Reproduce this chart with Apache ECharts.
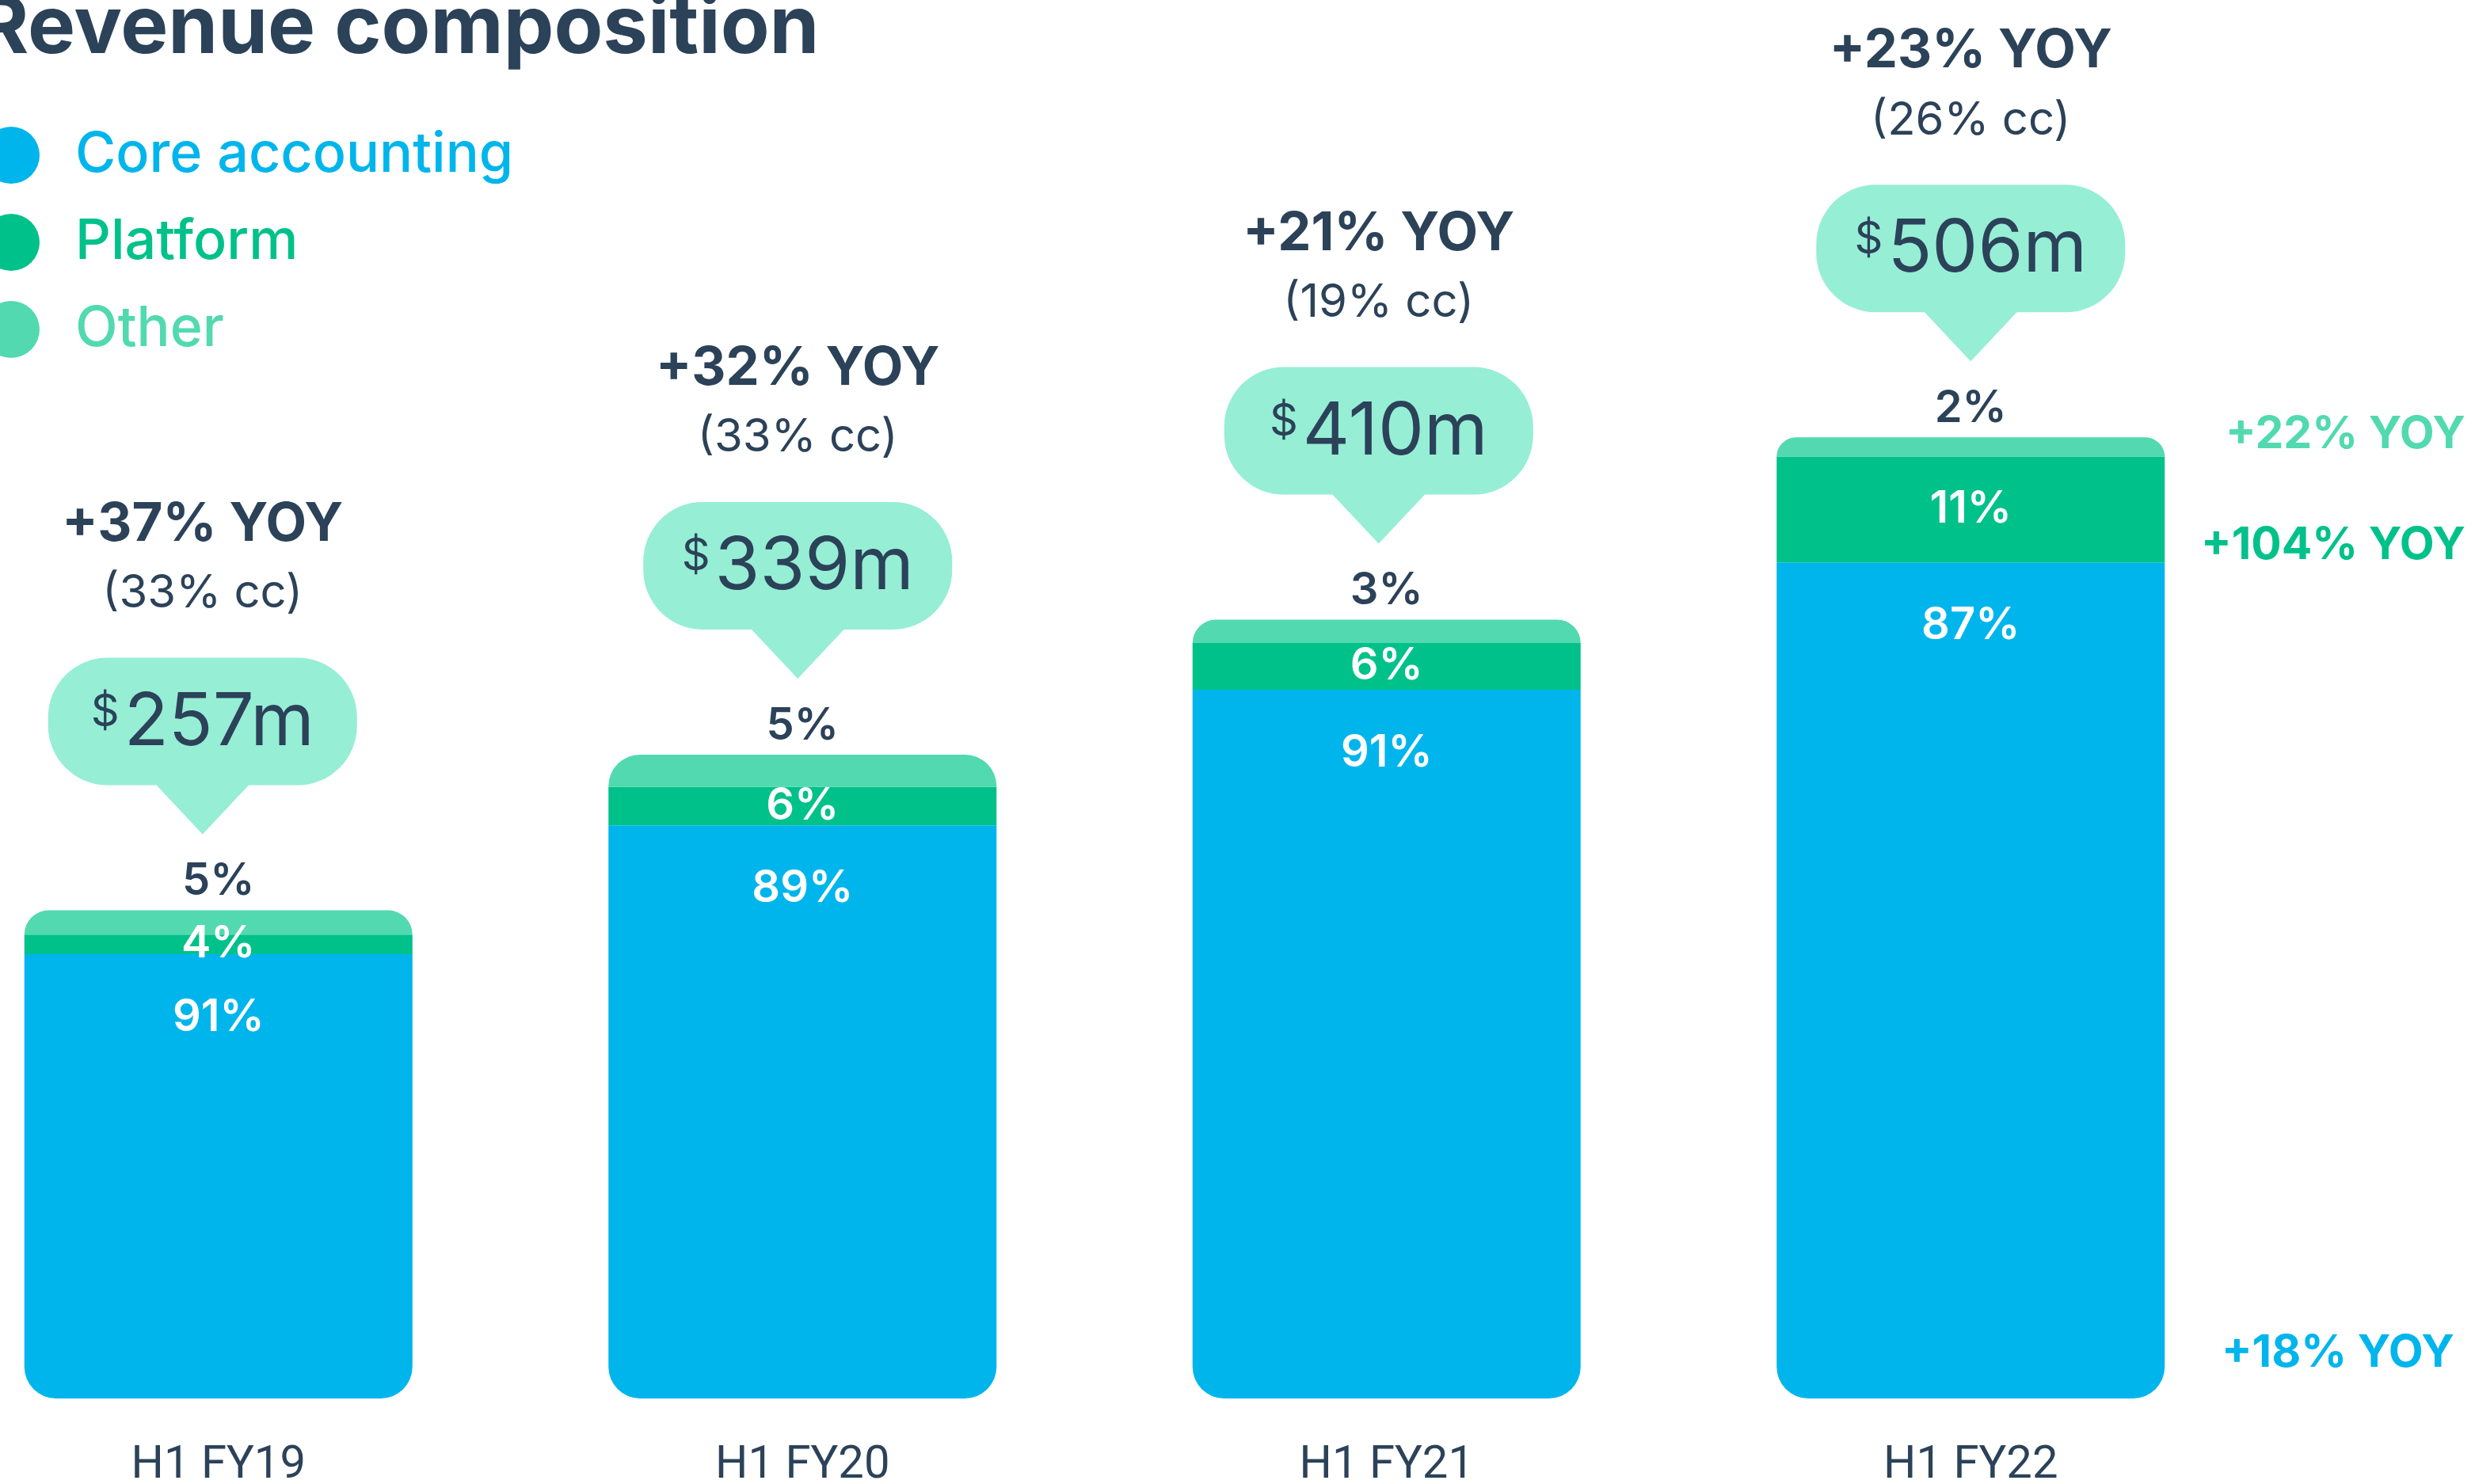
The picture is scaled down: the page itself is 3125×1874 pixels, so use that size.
<!DOCTYPE html>
<html>
<head>
<meta charset="utf-8">
<script src="https://cdn.jsdelivr.net/npm/echarts@6/dist/echarts.min.js"></script>
<style>
  html, body { margin: 0; padding: 0; background: #ffffff; }
  #graph { width: 3125px; height: 1874px; }
</style>
</head>
<body>
<div id="graph"></div>
<script>
// data ($m per segment, shares as printed)
var categories = ['H1 FY19', 'H1 FY20', 'H1 FY21', 'H1 FY22'];
var totalRevenue = [257, 339, 410, 506];
var coreValues = [233.9, 301.7, 373.1, 440.2];
var platformValues = [10.3, 20.3, 24.6, 55.7];
var otherValues = [12.8, 17.0, 12.3, 10.1];
var corePct = ['91%', '89%', '91%', '87%'];
var platformPct = ['4%', '6%', '6%', '11%'];
var otherPct = ['5%', '5%', '3%', '2%'];
var yoyLabels = ['+37% YOY', '+32% YOY', '+21% YOY', '+23% YOY'];
var ccLabels = ['(33% cc)', '(33% cc)', '(19% cc)', '(26% cc)'];
var segmentGrowth = ['+22% YOY', '+104% YOY', '+18% YOY'];

// the callouts sit a touch left of the bar centres on the slide
var calloutShift = [-20, -6, -10, 0];

var dark = '#2B4259';
var coreColor = '#00B5EC';
var platformColor = '#00C18A';
var otherColor = '#52D9AF';
var bubbleColor = '#96EED5';
var font = 'Inter';

var dom = document.getElementById('graph');
var myChart = echarts.init(dom);

function renderBubble(params, api) {
    var pt = api.coord([api.value(0), api.value(1)]);
    var i = params.dataIndex;
    var cx = pt[0] + calloutShift[i], top = pt[1];
    var bw = 390, bh = 161;
    var tip = top - 96;
    var bBottom = tip - 62;
    var bTop = bBottom - bh;
    return {
        type: 'group',
        children: [
            {
                type: 'polygon',
                shape: { points: [[cx - 62, bBottom - 4], [cx + 62, bBottom - 4], [cx, tip]] },
                style: { fill: bubbleColor }
            },
            {
                type: 'rect',
                shape: { x: cx - bw / 2, y: bTop, width: bw, height: bh, r: 75 },
                style: { fill: bubbleColor }
            },
            {
                type: 'text',
                style: {
                    text: '{d|$}{n|' + totalRevenue[i] + 'm}',
                    x: cx, y: bTop + bh / 2 + 2,
                    align: 'center', verticalAlign: 'middle',
                    fill: dark,
                    rich: {
                        d: { fontSize: 56, fontFamily: font, fill: dark, padding: [0, 6, 26, 0] },
                        n: { fontSize: 92, fontFamily: font, fill: dark, lineHeight: 100 }
                    }
                }
            },
            {
                type: 'text',
                style: {
                    text: yoyLabels[i], x: cx, y: bTop - 168,
                    align: 'center', verticalAlign: 'middle',
                    fill: dark, fontSize: 67, fontWeight: 'bold', fontFamily: font
                }
            },
            {
                type: 'text',
                style: {
                    text: ccLabels[i], x: cx, y: bTop - 81,
                    align: 'center', verticalAlign: 'middle',
                    fill: dark, fontSize: 58, fontFamily: font
                }
            }
        ]
    };
}

var pctLabel = { color: '#ffffff', fontSize: 56, fontWeight: 600, fontFamily: font };

var option = {
    backgroundColor: '#ffffff',
    animation: false,
    title: {
        text: 'Revenue composition',
        left: -30,
        top: -14,
        padding: 0,
        textStyle: { color: dark, fontSize: 101, fontWeight: 'bold', fontFamily: font }
    },
    legend: {
        orient: 'vertical',
        left: -22,
        top: 160,
        padding: 0,
        itemWidth: 72,
        itemHeight: 72,
        itemGap: 38,
        icon: 'circle',
        selectedMode: false,
        data: [
            { name: 'Core accounting', textStyle: { color: coreColor } },
            { name: 'Platform', textStyle: { color: platformColor } },
            { name: 'Other', textStyle: { color: otherColor } }
        ],
        textStyle: { fontSize: 70, fontFamily: font, fontWeight: 500, padding: [0, 0, 0, 40] }
    },
    grid: {
        left: -93,
        width: 2950,
        top: 87,
        bottom: 108,
        outerBoundsMode: 'none',
        containLabel: false
    },
    xAxis: {
        type: 'category',
        data: categories,
        axisLine: { show: false },
        axisTick: { show: false },
        axisLabel: { color: dark, fontSize: 58, fontFamily: 'Roboto', margin: 56 }
    },
    yAxis: {
        type: 'value',
        min: 0,
        max: 700,
        show: false,
        splitLine: { show: false }
    },
    series: [
        {
            name: 'Core accounting',
            type: 'bar',
            stack: 'rev',
            barWidth: 490,
            data: coreValues,
            itemStyle: { color: coreColor, borderRadius: [0, 0, 40, 40] },
            label: Object.assign({
                show: true, position: 'insideTop', distance: 52,
                formatter: function (p) { return corePct[p.dataIndex]; }
            }, pctLabel)
        },
        {
            name: 'Platform',
            type: 'bar',
            stack: 'rev',
            barWidth: 490,
            data: platformValues,
            itemStyle: { color: platformColor },
            label: Object.assign({
                show: true, position: 'inside',
                formatter: function (p) { return platformPct[p.dataIndex]; }
            }, pctLabel)
        },
        {
            name: 'Other',
            type: 'bar',
            stack: 'rev',
            barWidth: 490,
            data: otherValues,
            itemStyle: { color: otherColor, borderRadius: [40, 40, 0, 0] },
            label: {
                show: true, position: 'top', distance: 8,
                color: dark, fontSize: 56, fontWeight: 600, fontFamily: font,
                formatter: function (p) { return otherPct[p.dataIndex]; }
            }
        },
        {
            name: 'bubbles',
            type: 'custom',
            clip: false,
            renderItem: renderBubble,
            data: totalRevenue.map(function (v, i) { return [i, v]; }),
            z: 5
        }
    ],
    graphic: [
        {
            type: 'text', right: 12, top: 520,
            style: { text: segmentGrowth[0], fill: otherColor, fontSize: 57, fontWeight: 'bold', fontFamily: font }
        },
        {
            type: 'text', right: 12, top: 660,
            style: { text: segmentGrowth[1], fill: platformColor, fontSize: 57, fontWeight: 'bold', fontFamily: font }
        },
        {
            type: 'text', right: 26, top: 1680,
            style: { text: segmentGrowth[2], fill: coreColor, fontSize: 57, fontWeight: 'bold', fontFamily: font }
        }
    ]
};

if (option && typeof option === 'object') {
    myChart.setOption(option, true);
}
</script>
</body>
</html>
